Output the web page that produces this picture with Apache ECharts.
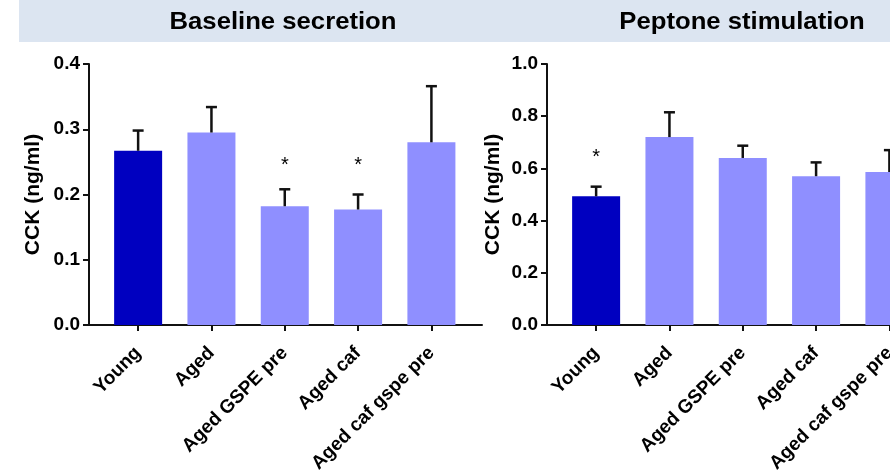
<!DOCTYPE html>
<html>
<head>
<meta charset="utf-8">
<script src="https://cdn.jsdelivr.net/npm/echarts@6/dist/echarts.min.js"></script>
<style>html,body{margin:0;padding:0;background:#fff}#c{width:890px;height:472px}</style>
</head>
<body>
<div id="c"></div>
<script>
const categories = ['Young', 'Aged', 'Aged GSPE pre', 'Aged caf', 'Aged caf gspe pre'];
const panelTitles = ['Baseline secretion', 'Peptone stimulation'];
const yAxisTitle = 'CCK (ng/ml)';

const baselineMean = [0.267, 0.295, 0.182, 0.177, 0.280];
const baselineSEM  = [0.031, 0.039, 0.026, 0.023, 0.086];
const baselineStar = [null, null, 0.245, 0.245, null];

const peptoneMean = [0.493, 0.720, 0.640, 0.570, 0.586];
const peptoneSEM  = [0.037, 0.095, 0.047, 0.053, 0.084];
const peptoneStar = [0.641, null, null, null, null];

const yTicksBaseline = { min: 0, max: 0.4, interval: 0.1 };
const yTicksPeptone  = { min: 0, max: 1.0, interval: 0.2 };

const FONT = 'Liberation Sans, Arial, sans-serif';
const DARK = '#0000c0';
const LIGHT = '#8f8fff';
const AX = '#111';

const chart = echarts.init(document.getElementById('c'), null, { renderer: 'canvas' });

function xAxisCfg(gridIndex) {
  const idx = categories.map((_, i) => i);
  return {
    type: 'value', gridIndex, min: -0.67, max: 4.69,
    splitLine: { show: false },
    axisLine: { show: true, onZero: false, lineStyle: { color: AX, width: 2 } },
    axisTick: { show: true, customValues: idx, length: 6, lineStyle: { color: AX, width: 2 } },
    axisLabel: {
      customValues: idx, rotate: 45, margin: 25, color: '#000',
      fontFamily: FONT, fontWeight: 'bold', fontSize: 19,
      formatter: v => categories[Math.round(v)]
    }
  };
}
function yAxisCfg(gridIndex, t, gap) {
  return {
    type: 'value', gridIndex, min: t.min, max: t.max, interval: t.interval,
    name: yAxisTitle, nameLocation: 'middle', nameGap: gap,
    nameTextStyle: { fontFamily: FONT, fontWeight: 'bold', fontSize: 21, color: '#000' },
    splitLine: { show: false },
    axisLine: { show: true, onZero: false, lineStyle: { color: AX, width: 2 } },
    axisTick: { show: true, length: 6, lineStyle: { color: AX, width: 2 } },
    axisLabel: { margin: 9, color: '#000', fontFamily: FONT, fontWeight: 'bold', fontSize: 19,
      formatter: v => v.toFixed(1) }
  };
}
function barSeries(i, means) {
  return {
    type: 'bar', xAxisIndex: i, yAxisIndex: i, barWidth: 48,
    data: means.map((m, k) => [k, m]),
    itemStyle: { color: p => p.dataIndex === 0 ? DARK : LIGHT },
    silent: true, animation: false
  };
}
function errSeries(i, means, sems) {
  return {
    type: 'custom', xAxisIndex: i, yAxisIndex: i, animation: false, silent: true,
    data: means.map((m, k) => [k, m, m + sems[k]]),
    renderItem: (params, api) => {
      const lo = api.coord([api.value(0), api.value(1)]);
      const hi = api.coord([api.value(0), api.value(2)]);
      const hw = 5.5;
      const st = { stroke: AX, lineWidth: 2.5 };
      return { type: 'group', children: [
        { type: 'line', shape: { x1: lo[0], y1: lo[1], x2: hi[0], y2: hi[1] }, style: st },
        { type: 'line', shape: { x1: hi[0] - hw, y1: hi[1], x2: hi[0] + hw, y2: hi[1] }, style: st }
      ]};
    },
    z: 3
  };
}
function starSeries(i, stars) {
  return {
    type: 'custom', xAxisIndex: i, yAxisIndex: i, animation: false, silent: true,
    data: stars.map((s, k) => s == null ? null : [k, s]).filter(d => d),
    renderItem: (params, api) => {
      const p = api.coord([api.value(0), api.value(1)]);
      return { type: 'text', x: p[0], y: p[1], style: { text: '*', fontSize: 20, fontFamily: FONT,
        fill: '#000', align: 'center', verticalAlign: 'middle' } };
    }
  };
}

chart.setOption({
  animation: false,
  graphic: [
    { type: 'rect', shape: { x: 19, y: 0, width: 871, height: 42 }, style: { fill: '#dce5f1' }, z: -1 },
    { type: 'text', x: 283, y: 22, scaleX: 1.07, style: { text: panelTitles[0], fontFamily: FONT, fontWeight: 'bold',
      fontSize: 24, fill: '#000', align: 'center', verticalAlign: 'middle' } },
    { type: 'text', x: 742, y: 22, scaleX: 1.07, style: { text: panelTitles[1], fontFamily: FONT, fontWeight: 'bold',
      fontSize: 24, fill: '#000', align: 'center', verticalAlign: 'middle' } }
  ],
  grid: [
    { left: 89, top: 64, width: 393, height: 261, containLabel: false, outerBoundsMode: 'none' },
    { left: 547, top: 64, width: 393, height: 261, containLabel: false, outerBoundsMode: 'none' }
  ],
  xAxis: [xAxisCfg(0), xAxisCfg(1)],
  yAxis: [yAxisCfg(0, yTicksBaseline, 45), yAxisCfg(1, yTicksPeptone, 43)],
  series: [
    barSeries(0, baselineMean), errSeries(0, baselineMean, baselineSEM), starSeries(0, baselineStar),
    barSeries(1, peptoneMean), errSeries(1, peptoneMean, peptoneSEM), starSeries(1, peptoneStar)
  ]
});
</script>
</body>
</html>
